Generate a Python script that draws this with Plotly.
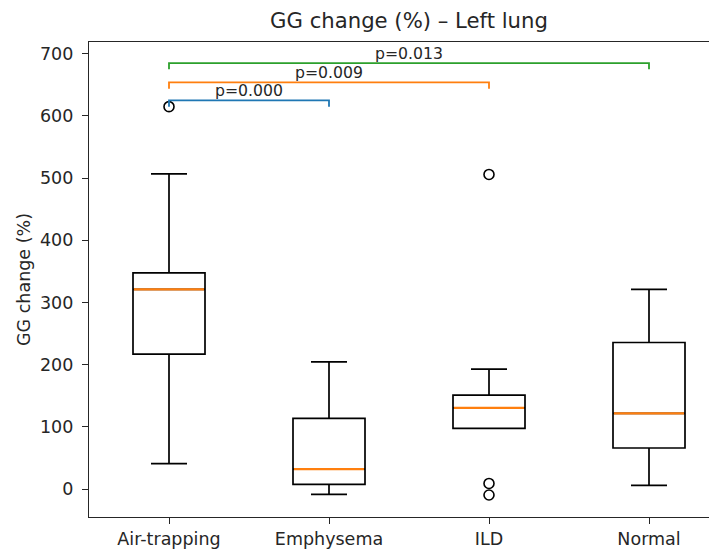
import plotly.graph_objects as go

categories = ["Air-trapping", "Emphysema", "ILD", "Normal"]
q1 = [217, 7.5, 97.5, 66]
median = [321, 32, 130.6, 121.6]
q3 = [347.5, 113.6, 151, 235.7]
lower_whisker = [41, -8.5, 97.5, 6]
upper_whisker = [507, 204.6, 193, 321]

outlier_group = [0, 2, 2, 2]
outlier_value = [615, 506, 9, -9.6]

bracket_pairs = [(0, 1), (0, 2), (0, 3)]
bracket_heights = [625, 654, 685]
bracket_labels = ["p=0.000", "p=0.009", "p=0.013"]
bracket_colors = ["#1f77b4", "#ff7f0e", "#2ca02c"]

positions = [i + 1 for i in range(len(categories))]
box_width = 0.45
FONT = "DejaVu Sans"
TXT = "#262626"

fig = go.Figure()
fig.add_trace(go.Box(
    x=positions, q1=q1, median=median, q3=q3,
    lowerfence=lower_whisker, upperfence=upper_whisker,
    width=box_width, whiskerwidth=0.5,
    fillcolor="rgba(0,0,0,0)", line=dict(color="black", width=1.7),
    boxpoints=False, showlegend=False, hoverinfo="skip",
))

# orange median lines
for p, m in zip(positions, median):
    fig.add_trace(go.Scatter(
        x=[p - box_width / 2 + 0.006, p + box_width / 2 - 0.006], y=[m, m], mode="lines",
        line=dict(color="#ff7f0e", width=2.3), showlegend=False, hoverinfo="skip"))

# outliers
fig.add_trace(go.Scatter(
    x=[positions[g] for g in outlier_group], y=outlier_value, mode="markers",
    marker=dict(symbol="circle-open", size=10, color="black", line=dict(width=1.6)),
    showlegend=False, hoverinfo="skip"))

# significance brackets
drop = 10
for (a, b), h, lab, col in zip(bracket_pairs, bracket_heights, bracket_labels, bracket_colors):
    xa, xb = positions[a], positions[b]
    fig.add_trace(go.Scatter(
        x=[xa, xa, xb, xb], y=[h - drop, h, h, h - drop], mode="lines",
        line=dict(color=col, width=1.8), showlegend=False, hoverinfo="skip"))
    fig.add_annotation(x=(xa + xb) / 2, y=h, text=lab, showarrow=False,
                       xanchor="center", yanchor="bottom", yshift=-2,
                       font=dict(family=FONT, size=15.7, color=TXT))

# the page puts the figure 8px in from the top-left corner
W, H = 701, 542
L, T, B = 81, 34, 33
plot_w = W - L
fig.update_layout(
    width=W, height=H,
    margin=dict(l=L, r=0, t=T, b=B),
    plot_bgcolor="white", paper_bgcolor="white",
    font=dict(family=FONT, size=17.5, color=TXT),
    title=dict(text="GG change (%) – Left lung", x=(L + L + 640) / 2 / W, xanchor="center",
               y=1 - 13 / H, yanchor="middle", yref="container",
               font=dict(family=FONT, size=21.2, color=TXT)),
)
fig.update_xaxes(
    range=[0.5, 0.5 + plot_w / 160], tickmode="array", tickvals=positions, ticktext=categories,
    showline=True, linecolor=TXT, linewidth=1.4, mirror=True, automargin=False,
    ticks="outside", ticklen=6, tickwidth=1.4, tickcolor=TXT, showgrid=False, zeroline=False,
    tickfont=dict(family=FONT, size=17.5, color=TXT),
)
fig.update_yaxes(
    range=[-45, 719], tickmode="array", tickvals=[0, 100, 200, 300, 400, 500, 600, 700],
    showline=True, linecolor=TXT, linewidth=1.4, automargin=False,
    ticks="outside", ticklen=6, tickwidth=1.4, tickcolor=TXT, showgrid=False, zeroline=False,
    ticklabelstandoff=5, tickfont=dict(family=FONT, size=17.5, color=TXT),
    title=dict(text="GG change (%)", standoff=4, font=dict(family=FONT, size=17.5, color=TXT)),
)

fig.write_html("out.html")
